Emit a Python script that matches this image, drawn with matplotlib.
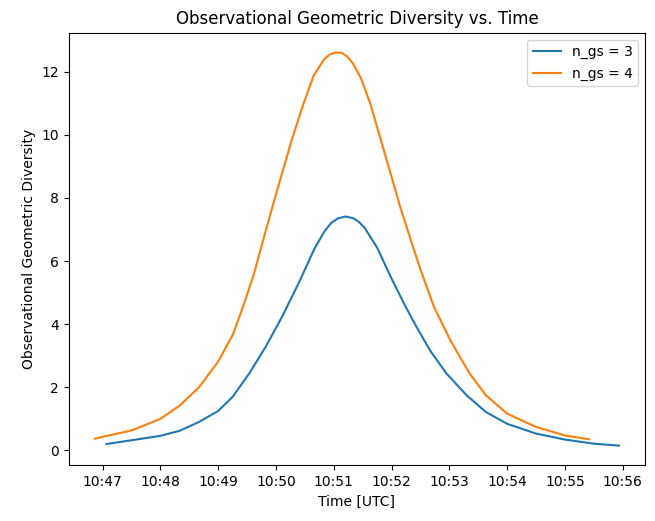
import numpy as np
import pandas as pd
import matplotlib
matplotlib.use("Agg")
import matplotlib.pyplot as plt
import matplotlib.dates as mdates

# n_gs = 3
times_3 = ["10:47:04", "10:47:30", "10:48:00", "10:48:20", "10:48:40", "10:49:00",
           "10:49:15", "10:49:32", "10:49:49", "10:50:06", "10:50:23", "10:50:40",
           "10:50:50", "10:50:57", "10:51:04", "10:51:12", "10:51:20", "10:51:26",
           "10:51:32", "10:51:45", "10:51:59", "10:52:13", "10:52:26", "10:52:40",
           "10:52:57", "10:53:18", "10:53:38", "10:54:00", "10:54:30", "10:55:00",
           "10:55:30", "10:55:56"]
ogd_3 = [0.20, 0.32, 0.46, 0.62, 0.90, 1.25,
         1.70, 2.43, 3.27, 4.22, 5.27, 6.40,
         6.93, 7.20, 7.35, 7.41, 7.36, 7.24,
         7.05, 6.42, 5.50, 4.64, 3.90, 3.16,
         2.43, 1.74, 1.21, 0.84, 0.53, 0.34,
         0.21, 0.15]

# n_gs = 4
times_4 = ["10:46:52", "10:47:00", "10:47:30", "10:48:00", "10:48:20", "10:48:40",
           "10:49:00", "10:49:15", "10:49:26", "10:49:37", "10:49:46", "10:49:56",
           "10:50:06", "10:50:16", "10:50:27", "10:50:39", "10:50:50", "10:50:56",
           "10:51:02", "10:51:08", "10:51:14", "10:51:20", "10:51:28", "10:51:38",
           "10:51:49", "10:51:59", "10:52:09", "10:52:20", "10:52:30", "10:52:44",
           "10:53:01", "10:53:21", "10:53:38", "10:54:00", "10:54:30", "10:55:00",
           "10:55:25"]
ogd_4 = [0.37, 0.43, 0.63, 1.00, 1.42, 2.00,
         2.82, 3.66, 4.58, 5.59, 6.60, 7.70,
         8.76, 9.81, 10.86, 11.88, 12.40, 12.55,
         12.61, 12.60, 12.48, 12.25, 11.80, 10.97,
         9.81, 8.76, 7.70, 6.65, 5.72, 4.54,
         3.48, 2.43, 1.74, 1.16, 0.74, 0.47,
         0.35]

t3 = pd.to_datetime(["2024-01-01 " + t for t in times_3])
t4 = pd.to_datetime(["2024-01-01 " + t for t in times_4])

fig, ax = plt.subplots(figsize=(6.55, 5.21), dpi=100)
fig.subplots_adjust(left=0.105, right=0.985, bottom=0.107, top=0.937)

ax.plot(t3, ogd_3, label="n_gs = 3")
ax.plot(t4, ogd_4, label="n_gs = 4")

ax.xaxis.set_major_locator(mdates.MinuteLocator())
ax.xaxis.set_major_formatter(mdates.DateFormatter("%H:%M"))

ax.set_title("Observational Geometric Diversity vs. Time")
ax.set_xlabel("Time [UTC]")
ax.set_ylabel("Observational Geometric Diversity")
ax.legend(loc="upper right")

plt.savefig("out.png")
